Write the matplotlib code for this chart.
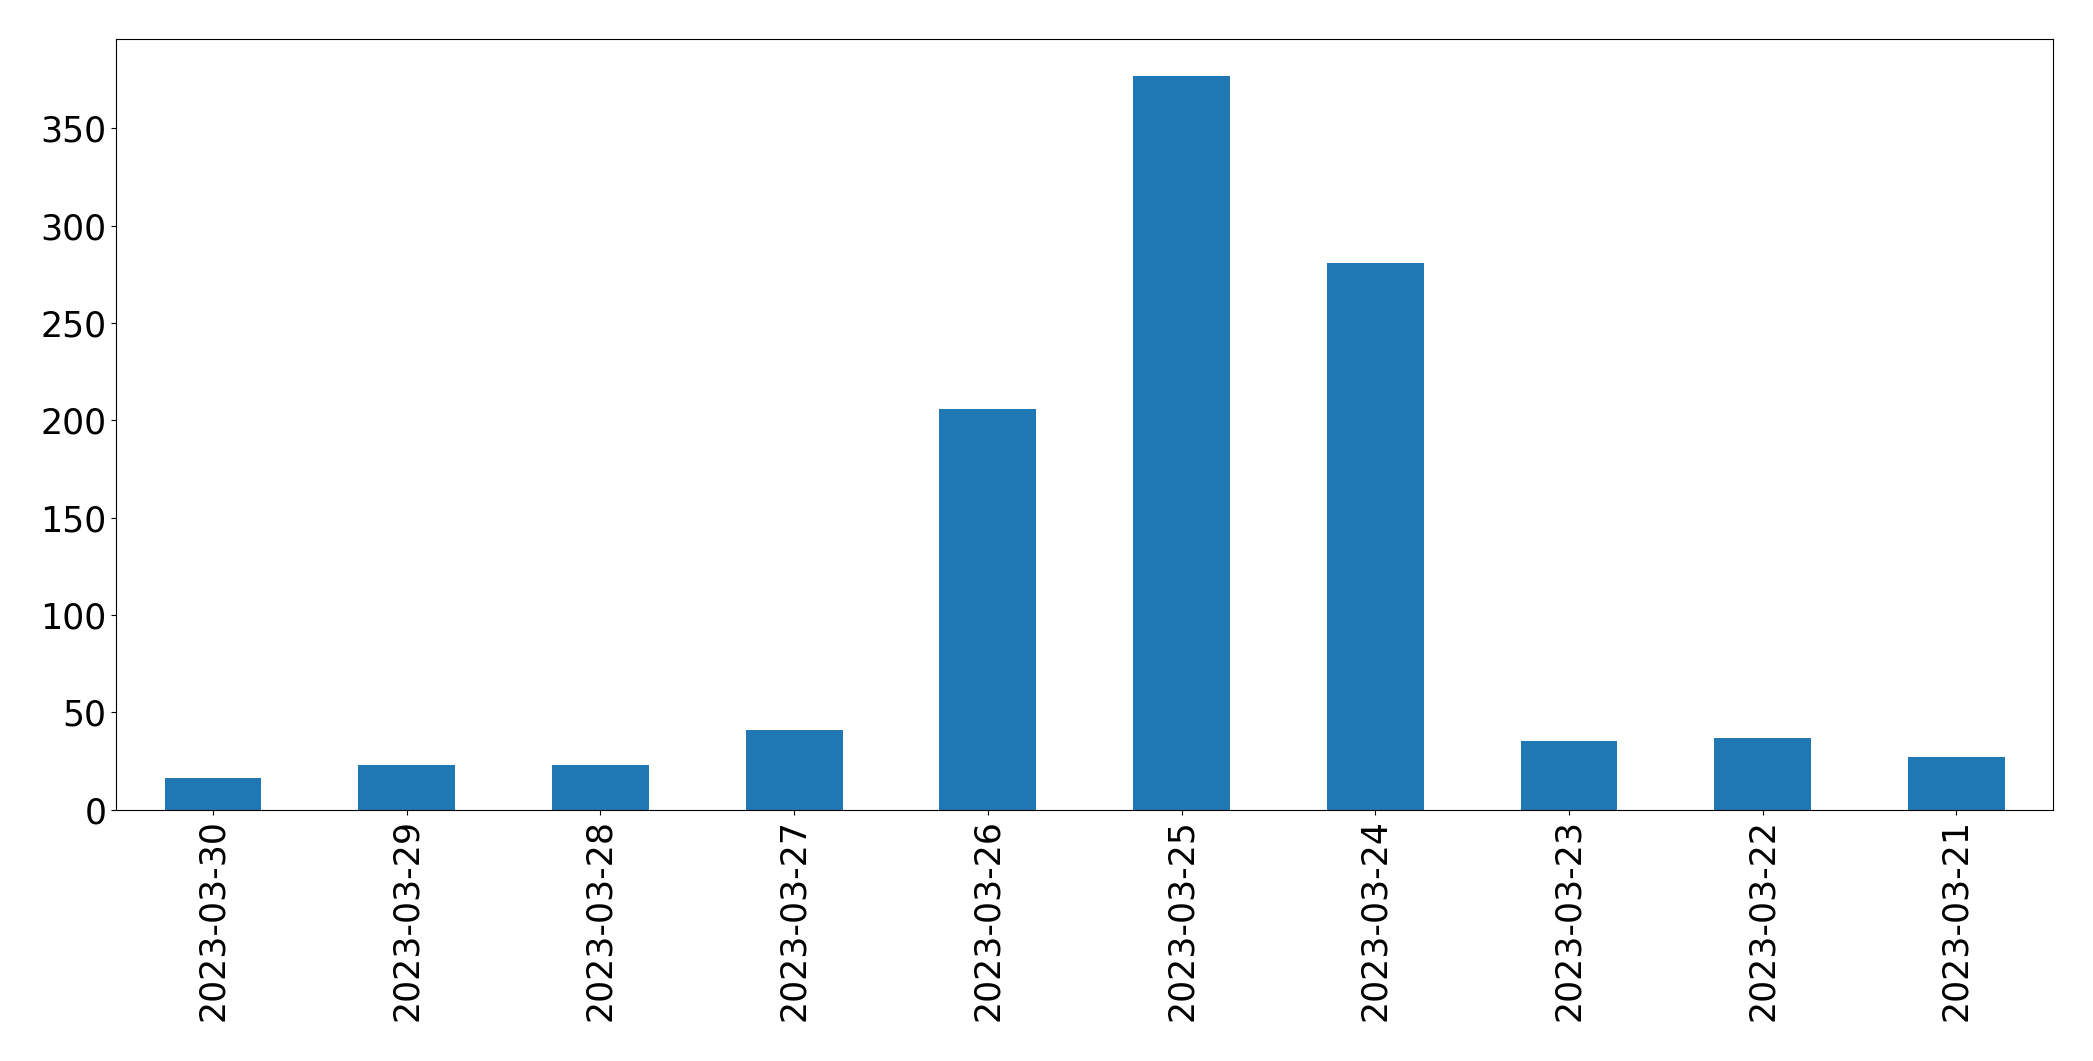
import matplotlib
matplotlib.use("Agg")
import matplotlib.pyplot as plt
import pandas as pd

# 每日数量（按日期倒序）
dates = ["2023-03-30", "2023-03-29", "2023-03-28", "2023-03-27", "2023-03-26",
         "2023-03-25", "2023-03-24", "2023-03-23", "2023-03-22", "2023-03-21"]
counts = [16, 23, 23, 41, 206, 377, 281, 35, 37, 27]

s = pd.Series(counts, index=dates)

fig, ax = plt.subplots(figsize=(20.93, 10.61), dpi=100)
s.plot.bar(ax=ax, color="#1f77b4", width=0.5, rot=90)
ax.tick_params(axis="both", labelsize=25)
fig.subplots_adjust(left=0.0555, right=0.981, top=0.963, bottom=0.237)

fig.savefig("out.png", dpi=100, facecolor="white")
plt.close(fig)
